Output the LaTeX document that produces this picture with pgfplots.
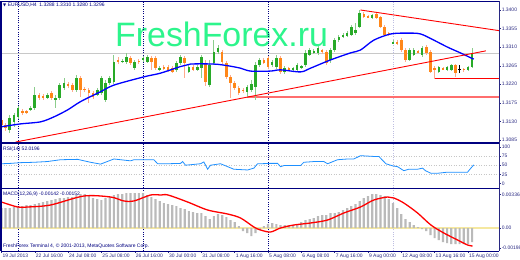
\documentclass[border=0pt]{standalone}
\usepackage{pgfplots}
\pgfplotsset{compat=1.18}
\usepackage{pgfplotstable}
\usepackage{fontspec}
\setmainfont{Liberation Sans}
\newfontfamily\dejavu{DejaVu Sans}
\definecolor{navyc}{RGB}{0,0,128}
\definecolor{lbl}{RGB}{40,40,130}
\definecolor{bullc}{RGB}{40,170,40}
\definecolor{bearc}{RGB}{255,135,25}
\definecolor{bullw}{RGB}{140,205,140}
\definecolor{bearw}{RGB}{255,170,140}
\definecolor{wm}{RGB}{45,245,140}
\definecolor{salm}{RGB}{255,110,110}
\definecolor{rsiblue}{RGB}{30,144,255}
\definecolor{zeroy}{RGB}{245,232,160}
\definecolor{sepl}{RGB}{190,190,225}
\definecolor{pgray}{RGB}{200,200,200}

\pgfplotstableread{
i o h l c
0 1.3133 1.3138 1.3114 1.3121
1 1.3121 1.3126 1.3107 1.3114
2 1.3109 1.3146 1.3102 1.3138
3 1.3129 1.3150 1.3117 1.3146
4 1.3141 1.3167 1.3136 1.3163
5 1.3155 1.3160 1.3146 1.3150
6 1.3155 1.3158 1.3148 1.3150
7 1.3158 1.3167 1.3155 1.3163
8 1.3163 1.3213 1.3158 1.3194
9 1.3194 1.3199 1.3182 1.3187
10 1.3192 1.3196 1.3182 1.3187
11 1.3187 1.3199 1.3184 1.3194
12 1.3199 1.3204 1.3182 1.3187
13 1.3184 1.3194 1.3163 1.3187
14 1.3187 1.3223 1.3182 1.3218
15 1.3211 1.3235 1.3206 1.3223
16 1.3221 1.3226 1.3211 1.3216
17 1.3218 1.3223 1.3201 1.3206
18 1.3206 1.3243 1.3201 1.3235
19 1.3235 1.3240 1.3189 1.3206
20 1.3209 1.3213 1.3201 1.3206
21 1.3206 1.3211 1.3175 1.3199
22 1.3199 1.3204 1.3184 1.3189
23 1.3194 1.3211 1.3192 1.3206
24 1.3199 1.3240 1.3194 1.3235
25 1.3182 1.3230 1.3177 1.3223
26 1.3223 1.3240 1.3218 1.3235
27 1.3226 1.3291 1.3221 1.3274
28 1.3279 1.3286 1.3269 1.3274
29 1.3274 1.3281 1.3272 1.3277
30 1.3274 1.3296 1.3269 1.3286
31 1.3284 1.3289 1.3267 1.3272
32 1.3259 1.3279 1.3255 1.3274
33 1.3277 1.3281 1.3269 1.3274
34 1.3279 1.3289 1.3274 1.3284
35 1.3274 1.3291 1.3272 1.3286
36 1.3284 1.3289 1.3255 1.3274
37 1.3284 1.3289 1.3255 1.3259
38 1.3255 1.3264 1.3252 1.3259
39 1.3262 1.3267 1.3255 1.3259
40 1.3262 1.3267 1.3250 1.3255
41 1.3259 1.3264 1.3247 1.3250
42 1.3255 1.3277 1.3250 1.3272
43 1.3272 1.3291 1.3267 1.3286
44 1.3284 1.3289 1.3235 1.3272
45 1.3250 1.3267 1.3247 1.3262
46 1.3262 1.3267 1.3252 1.3255
47 1.3255 1.3267 1.3252 1.3262
48 1.3259 1.3291 1.3235 1.3286
49 1.3272 1.3279 1.3216 1.3226
50 1.3218 1.3279 1.3213 1.3267
51 1.3272 1.3327 1.3267 1.3298
52 1.3298 1.3315 1.3293 1.3308
53 1.3298 1.3303 1.3269 1.3274
54 1.3272 1.3277 1.3233 1.3238
55 1.3238 1.3243 1.3187 1.3223
56 1.3223 1.3228 1.3206 1.3211
57 1.3211 1.3216 1.3194 1.3199
58 1.3206 1.3211 1.3199 1.3204
59 1.3201 1.3218 1.3189 1.3213
60 1.3206 1.3230 1.3201 1.3221
61 1.3213 1.3274 1.3182 1.3267
62 1.3267 1.3284 1.3262 1.3279
63 1.3279 1.3284 1.3269 1.3272
64 1.3284 1.3289 1.3257 1.3262
65 1.3267 1.3279 1.3262 1.3274
66 1.3262 1.3291 1.3257 1.3284
67 1.3284 1.3289 1.3245 1.3250
68 1.3250 1.3264 1.3245 1.3259
69 1.3259 1.3262 1.3252 1.3255
70 1.3255 1.3262 1.3252 1.3259
71 1.3255 1.3272 1.3252 1.3267
72 1.3259 1.3267 1.3257 1.3264
73 1.3267 1.3303 1.3262 1.3296
74 1.3291 1.3308 1.3289 1.3303
75 1.3298 1.3306 1.3293 1.3301
76 1.3296 1.3313 1.3291 1.3308
77 1.3303 1.3306 1.3293 1.3298
78 1.3298 1.3303 1.3267 1.3272
79 1.3279 1.3308 1.3272 1.3303
80 1.3303 1.3332 1.3298 1.3327
81 1.3327 1.3339 1.3322 1.3335
82 1.3335 1.3344 1.3332 1.3339
83 1.3337 1.3349 1.3335 1.3344
84 1.3339 1.3364 1.3337 1.3359
85 1.3344 1.3369 1.3339 1.3352
86 1.3359 1.3400 1.3356 1.3393
87 1.3390 1.3395 1.3381 1.3383
88 1.3385 1.3388 1.3381 1.3383
89 1.3381 1.3390 1.3378 1.3388
90 1.3390 1.3393 1.3378 1.3381
91 1.3383 1.3385 1.3356 1.3359
92 1.3359 1.3364 1.3337 1.3339
93 1.3344 1.3347 1.3337 1.3339
94 1.3320 1.3327 1.3318 1.3322
95 1.3322 1.3327 1.3315 1.3320
96 1.3327 1.3332 1.3298 1.3303
97 1.3303 1.3308 1.3274 1.3279
98 1.3279 1.3308 1.3277 1.3303
99 1.3291 1.3308 1.3289 1.3303
100 1.3301 1.3303 1.3296 1.3298
101 1.3291 1.3313 1.3286 1.3308
102 1.3310 1.3315 1.3291 1.3296
103 1.3298 1.3303 1.3247 1.3250
104 1.3259 1.3264 1.3233 1.3257
105 1.3250 1.3264 1.3247 1.3262
106 1.3259 1.3262 1.3255 1.3257
107 1.3255 1.3264 1.3252 1.3262
108 1.3255 1.3269 1.3252 1.3267
109 1.3267 1.3269 1.3238 1.3247
110 1.3257 1.3267 1.3247 1.3257
111 1.3257 1.3259 1.3250 1.3255
112 1.3255 1.3264 1.3252 1.3262
113 1.3262 1.3308 1.3259 1.3296
}\candles

\pgfplotstableread{
i m
0 0.0020
1 0.0020
2 0.0020
3 0.0021
4 0.0021
5 0.0022
6 0.0023
7 0.0023
8 0.0024
9 0.0025
10 0.0026
11 0.0027
12 0.0028
13 0.0029
14 0.0030
15 0.0030
16 0.0031
17 0.0031
18 0.0033
19 0.0034
20 0.0034
21 0.0032
22 0.0030
23 0.0029
24 0.0028
25 0.0030
26 0.0031
27 0.0033
28 0.0034
29 0.0034
30 0.0035
31 0.0035
32 0.0035
33 0.0035
34 0.0035
35 0.0033
36 0.0031
37 0.0029
38 0.0027
39 0.0025
40 0.0024
41 0.0023
42 0.0022
43 0.0020
44 0.0019
45 0.0017
46 0.0016
47 0.0015
48 0.0015
49 0.0012
50 0.0009
51 0.0012
52 0.0014
53 0.0013
54 0.0011
55 0.0008
56 0.0006
57 0.0002
58 -0.0003
59 -0.0005
60 -0.0008
61 -0.0005
62 -0.0002
63 0.0002
64 0.0004
65 0.0005
66 0.0004
67 0.0003
68 0.0003
69 0.0003
70 0.0003
71 0.0004
72 0.0006
73 0.0008
74 0.0009
75 0.0010
76 0.0012
77 0.0013
78 0.0013
79 0.0015
80 0.0015
81 0.0016
82 0.0018
83 0.0020
84 0.0022
85 0.0024
86 0.0027
87 0.0030
88 0.0032
89 0.0034
90 0.0034
91 0.0033
92 0.0032
93 0.0029
94 0.0025
95 0.0020
96 0.0014
97 0.0009
98 0.0006
99 0.0003
100 0.0001
101 -0.0001
102 -0.0003
103 -0.0007
104 -0.0010
105 -0.0012
106 -0.0014
107 -0.0015
108 -0.0016
109 -0.0016
110 -0.0016
111 -0.0016
112 -0.0016
113 -0.0014
}\macd

\pgfplotsset{
  mt/.style={
    scale only axis, width=498bp, xmin=-0.1, xmax=119.45,
    axis line style={draw=none},
    tick style={draw=lbl, line width=0.4bp},
    major tick length=1.8bp, tick align=outside,
    ticklabel style={font=\fontsize{5}{6}\selectfont, text=lbl, inner sep=0.8bp},
    ytick pos=right, yticklabel pos=right,
    yticklabel style={anchor=west},
    scaled y ticks=false,
    /pgf/number format/assume math mode=true,
  },
  wick/.style={forget plot, only marks, mark=*, mark size=0pt, mark options={draw=none, fill=none},
    error bars/.cd, y dir=both, y explicit, error mark=none,
    error bar style={draw=#1, line width=0.8bp}},
  body/.style={forget plot, only marks, mark=*, mark size=0pt, mark options={draw=none, fill=none},
    error bars/.cd, y dir=both, y explicit, error mark=none,
    error bar style={draw=#1, line width=2.6bp}},
}

\begin{document}
\begin{tikzpicture}
\useasboundingbox (0,0) rectangle (520bp,260bp);
\fill[white] (0,0) rectangle (520bp,260bp);
\node[anchor=base west, inner sep=0, text=wm, font=\fontsize{34}{34}\selectfont] at (115bp,213bp) {FreshForex.ru};

% ---------------- main price pane
\begin{axis}[mt, at={(1bp,117bp)}, height=141bp,
  ymin=1.30777, ymax=1.34194, xtick=\empty,
  ytick={1.3085,1.3130,1.3175,1.3220,1.3265,1.3310,1.3355,1.3400},
  yticklabels={1.3085,1.3130,1.3175,1.3220,1.3265,1.3310,1.3355,1.3400}]
\addplot[pgray, line width=0.7bp, forget plot] coordinates {(-0.1,1.3296) (119.45,1.3296)};
\draw[navyc, line width=0.6bp, dash pattern=on 0.9bp off 1.4bp] (axis cs:4,1.30777) -- (axis cs:4,1.34194);
\draw[navyc, line width=0.6bp, dash pattern=on 0.9bp off 1.4bp] (axis cs:34,1.30777) -- (axis cs:34,1.34194);
\draw[navyc, line width=0.6bp, dash pattern=on 0.9bp off 1.4bp] (axis cs:64,1.30777) -- (axis cs:64,1.34194);
\draw[sepl, line width=0.6bp, dash pattern=on 0.9bp off 1.4bp] (axis cs:94,1.30777) -- (axis cs:94,1.34194);
% salmon support
\addplot[salm, line width=2.2bp, forget plot] coordinates {(59,1.3189) (119.45,1.3189)};
% wicks
\addplot[restrict expr to domain={\thisrow{c}-\thisrow{o}}{0.00001:1}, wick=bullw]
  table[x=i, y expr={(\thisrow{h}+\thisrow{l})/2}, y error expr={(\thisrow{h}-\thisrow{l})/2}] {\candles};
\addplot[restrict expr to domain={\thisrow{c}-\thisrow{o}}{-1:-0.00001}, wick=bearw]
  table[x=i, y expr={(\thisrow{h}+\thisrow{l})/2}, y error expr={(\thisrow{h}-\thisrow{l})/2}] {\candles};
% bodies
\addplot[restrict expr to domain={\thisrow{c}-\thisrow{o}}{0.00001:1}, body=bullc]
  table[x=i, y expr={(\thisrow{o}+\thisrow{c})/2}, y error expr={abs(\thisrow{c}-\thisrow{o})/2}] {\candles};
\addplot[restrict expr to domain={\thisrow{c}-\thisrow{o}}{-1:-0.00001}, body=bearc]
  table[x=i, y expr={(\thisrow{o}+\thisrow{c})/2}, y error expr={abs(\thisrow{c}-\thisrow{o})/2}] {\candles};
% doji
\addplot[forget plot, only marks, mark=-, mark size=1.4bp, mark options={draw=black, line width=0.8bp},
  error bars/.cd, y dir=both, y explicit, error mark=none, error bar style={draw=black, line width=0.8bp}]
  coordinates {(110,1.3257) +- (0,0.0010)};
% moving average
\addplot[blue, line width=1.3bp, smooth, forget plot] coordinates {
(0,1.3117)(4.6,1.3124)(9.4,1.3129)(12.6,1.3141)(15.9,1.3158)(19,1.3178)(23.8,1.3202)(27,1.3218)
(34.2,1.3238)(38.2,1.3247)(43,1.3263)(45.4,1.3269)(51,1.3269)(54.3,1.3265)(57.4,1.3259)(59.8,1.3252)(64.6,1.3252)
(67,1.3255)(71.8,1.3250)(74.2,1.3259)(79,1.3279)(83.8,1.3296)(86.2,1.3303)(89.4,1.3327)
(93.5,1.3342)(97.5,1.3344)(100.6,1.3342)(103.8,1.3327)(107.1,1.3310)(110.2,1.3296)
(112.7,1.3284)(113.4,1.3281)};
% trend lines
\addplot[red, line width=0.9bp, forget plot] coordinates {(3.4,1.3080) (116.3,1.3301)};
\addplot[red, line width=0.9bp, forget plot] coordinates {(86.2,1.3400) (119.45,1.3350)};
\addplot[red, line width=0.9bp, forget plot] coordinates {(104.2,1.3233) (119.45,1.3233)};
\node[anchor=west, inner sep=0, text=navyc, font=\fontsize{5}{6}\selectfont] at (rel axis cs:0.004,0.979)
  {{\dejavu\fontsize{4}{4}\selectfont ▼}\,\,EURUSD,H4\ \ 1.3288 1.3310 1.3280 1.3296};
\node[anchor=west, inner sep=0.6bp, fill=navyc, text=white, font=\fontsize{5}{6}\selectfont, minimum width=20bp, minimum height=5.5bp]
  at (axis cs:119.45,1.3296) {1.3296};
\end{axis}

% ---------------- RSI pane
\begin{axis}[mt, at={(1bp,72bp)}, height=44bp,
  ymin=-12.3, ymax=108, xtick=\empty,
  ytick={0,25,50,75,100}, yticklabels={0,25,50,75,100}]
\addplot[gray!45, line width=0.5bp, dash pattern=on 1bp off 1.5bp, forget plot] coordinates {(-0.1,25) (119.45,25)};
\addplot[gray!45, line width=0.5bp, dash pattern=on 1bp off 1.5bp, forget plot] coordinates {(-0.1,50) (119.45,50)};
\addplot[gray!45, line width=0.5bp, dash pattern=on 1bp off 1.5bp, forget plot] coordinates {(-0.1,75) (119.45,75)};
\draw[navyc, line width=0.6bp, dash pattern=on 0.9bp off 1.4bp] (axis cs:4,-12.3) -- (axis cs:4,108);
\draw[navyc, line width=0.6bp, dash pattern=on 0.9bp off 1.4bp] (axis cs:34,-12.3) -- (axis cs:34,108);
\draw[navyc, line width=0.6bp, dash pattern=on 0.9bp off 1.4bp] (axis cs:64,-12.3) -- (axis cs:64,108);
\draw[sepl, line width=0.6bp, dash pattern=on 0.9bp off 1.4bp] (axis cs:94,-12.3) -- (axis cs:94,108);
\addplot[rsiblue, line width=0.8bp, forget plot] coordinates {
(0,54)(2.2,55)(4.6,57)(7.8,58)(11,60)(14.2,65)(18.3,66)(21.4,58)(23.8,53)(27,67)(31,62)
(31.8,65)(36.6,65)(37.5,54)(39.9,54)(43,55)(43.5,60)(44.2,50)(47.8,54)(48.6,59)(49.5,39)
(50.2,50)(52.6,54)(55.8,39)(59.1,37)(60.6,42)(61.5,54)(62.2,54)(64.6,55)(66.3,55)(67,46)
(67.8,49)(71.8,49)(72.6,58)(75,60)(77.4,60)(78.3,54)(80.7,65)(83.1,67)(84.6,67)(86.2,76)
(89.4,74)(90.6,74)(92.3,54)(94,48)(95.1,46)(96.6,35)(97.8,39)(99.9,39)(101.1,42)(101.8,35)
(103.1,28)(104.7,28)(107.1,31)(108.6,31)(110.2,31)(111.9,31)(112.7,42)(113.4,51)};
\node[anchor=west, inner sep=0, text=navyc, font=\fontsize{5}{6}\selectfont] at (rel axis cs:0.004,0.886) {RSI(14) 52.0196};
\end{axis}

% ---------------- MACD pane
\begin{axis}[mt, at={(1bp,9bp)}, height=62bp,
  ymin=-0.0023, ymax=0.0039,
  xtick={0,8,...,112}, xtick pos=bottom,
  xticklabels={19 Jul 2013,22 Jul 16:00,24 Jul 08:00,25 Jul 08:00,26 Jul 16:00,30 Jul 00:00,31 Jul 08:00,1 Aug 16:00,5 Aug 08:00,6 Aug 08:00,7 Aug 16:00,9 Aug 00:00,12 Aug 08:00,13 Aug 16:00,15 Aug 00:00},
  xticklabel style={anchor=north west, inner sep=0.6bp, xshift=0.3bp},
  ytick={-0.00198,0,0.00336}, yticklabels={-0.00198,0.00,0.00336}]
\addplot[zeroy, line width=1.5bp, forget plot] coordinates {(-0.1,0) (119.45,0)};
\draw[navyc, line width=0.6bp, dash pattern=on 0.9bp off 1.4bp] (axis cs:4,-0.0023) -- (axis cs:4,0.0039);
\draw[navyc, line width=0.6bp, dash pattern=on 0.9bp off 1.4bp] (axis cs:34,-0.0023) -- (axis cs:34,0.0039);
\draw[navyc, line width=0.6bp, dash pattern=on 0.9bp off 1.4bp] (axis cs:64,-0.0023) -- (axis cs:64,0.0039);
\draw[sepl, line width=0.6bp, dash pattern=on 0.9bp off 1.4bp] (axis cs:94,-0.0023) -- (axis cs:94,0.0039);
\addplot[ybar, bar width=2.2bp, bar shift=0pt, fill=black!27, draw=none, forget plot] table[x=i, y=m] {\macd};
\addplot[red, line width=1.3bp, smooth, forget plot] coordinates {
(0,0.0026)(3.9,0.0021)(6.3,0.0021)(11.8,0.0023)(19.8,0.0032)(26.2,0.0031)(29.4,0.0027)(31.8,0.0027)
(35.8,0.0033)(38.3,0.0033)(40,0.0033)(44.7,0.0026)(49.5,0.0018)(54.3,0.0014)(57.4,0.0010)
(60.6,0.0001)(62.2,-0.0002)(64.6,-0.0004)(67,0.0000)(70.2,0.0003)(74.2,0.0005)(78.3,0.0008)
(82.2,0.0015)(86.2,0.0021)(89.4,0.0028)(92.7,0.0031)(94.2,0.0030)(96.6,0.0025)(99.9,0.0015)
(103.1,0.0003)(106.2,-0.0005)(109.5,-0.0012)(111.9,-0.0017)(113.1,-0.0018)};
\node[anchor=west, inner sep=0, text=navyc, font=\fontsize{5}{6}\selectfont] at (rel axis cs:0.004,0.919) {MACD(12,26,9) -0.00142 -0.00152};
\node[anchor=west, inner sep=0, text=navyc, font=\fontsize{5}{6}\selectfont] at (rel axis cs:0.004,0.073) {FreshForex Terminal 4, © 2001-2013, MetaQuotes Software Corp.};
\end{axis}

% ---------------- frames
\draw[navyc, line width=1.5bp] (1bp,258.6bp) -- (499bp,258.6bp);
\draw[navyc, line width=2bp] (1bp,116.6bp) -- (499bp,116.6bp);
\draw[navyc, line width=1.2bp] (1bp,71.5bp) -- (499bp,71.5bp);
\draw[navyc, line width=0.7bp] (1bp,9bp) -- (499bp,9bp);
\draw[navyc, line width=1.2bp] (1bp,9bp) -- (1bp,259.3bp);
\draw[lbl, line width=0.8bp] (499bp,9bp) -- (499bp,259.3bp);
\end{tikzpicture}
\end{document}
